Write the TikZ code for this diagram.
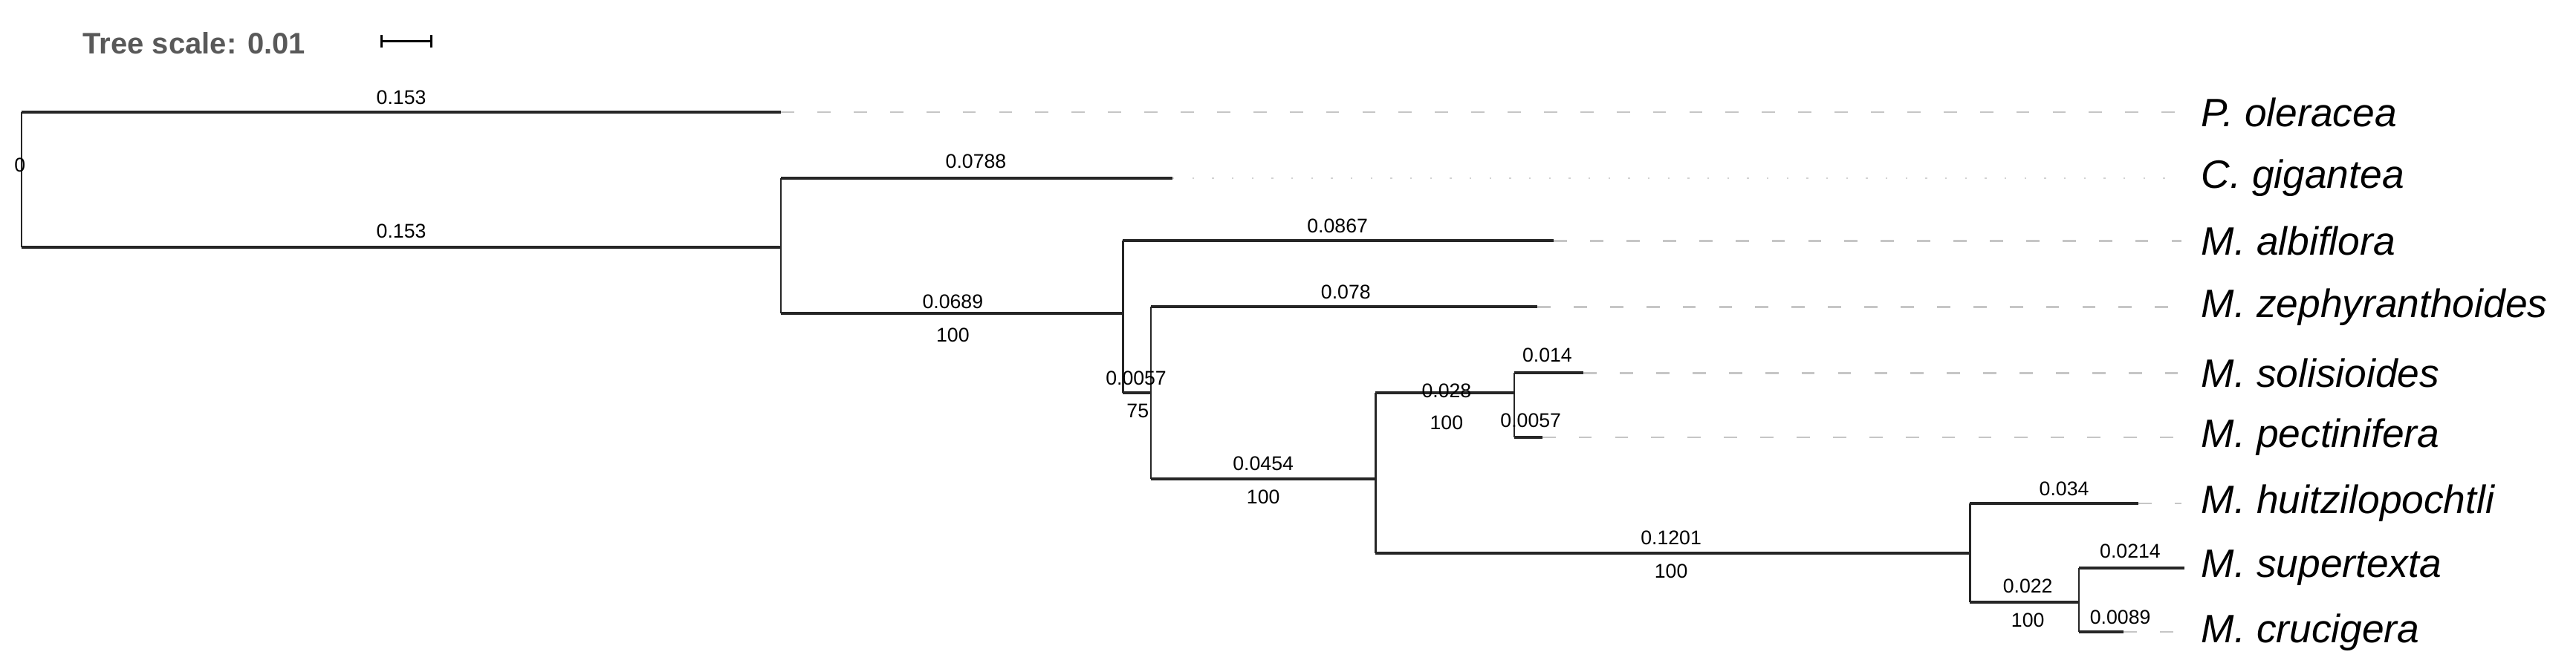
\documentclass[tikz,border=0pt]{standalone}
\usepackage{fontspec}
\setmainfont{Liberation Sans}
\begin{document}
\begin{tikzpicture}[x=1pt,y=-1pt,
  br/.style={line width=1.8pt,black!85},
  vt/.style={line width=1.1pt,black!85},
  lead/.style={line width=1.1pt,gray!45,dash pattern=on 8pt off 14pt},
  dotlead/.style={line width=1.1pt,gray!35,dash pattern=on 1pt off 11pt},
  bl/.style={font=\fontsize{12}{12}\selectfont,inner sep=1pt},
  tax/.style={font=\fontsize{24}{24}\selectfont\itshape,anchor=west,inner sep=0pt}]
\useasboundingbox (0,0) rectangle (1560,405);
% scale
\node[font=\fontsize{18}{18}\selectfont\bfseries,text=black!65,anchor=west,inner sep=0pt] (ts) at (50,26) {Tree scale: 0.01};
\coordinate (s1) at (231,25); \coordinate (s2) at (261,25);
\draw[line width=1.5pt] (s1) -- (s2);
\draw[line width=1.3pt] ([yshift=-4pt]s1) -- ([yshift=4pt]s1) ([yshift=-4pt]s2) -- ([yshift=4pt]s2);
% internal nodes
\coordinate (R) at (13,68); \coordinate (Rb) at (13,150);
\coordinate (A) at (473,108); \coordinate (Ab) at (473,190);
\coordinate (B) at (680,146); \coordinate (Bb) at (680,238);
\coordinate (C) at (697,186); \coordinate (Cb) at (697,290);
\coordinate (D) at (833,238); \coordinate (Db) at (833,335);
\coordinate (E) at (917,226); \coordinate (Eb) at (917,265);
\coordinate (F) at (1193,305); \coordinate (Fb) at (1193,365);
\coordinate (G) at (1259,344); \coordinate (Gb) at (1259,383);
% leaf ends
\coordinate (l1) at (473,68);
\coordinate (l2) at (710,108);
\coordinate (l3) at (941,146);
\coordinate (l4) at (931,186);
\coordinate (l5) at (959,226);
\coordinate (l6) at (934,265);
\coordinate (l7) at (1295,305);
\coordinate (l8) at (1323,344);
\coordinate (l9) at (1286,383);
% verticals
\draw[vt] (R) -- (Rb); \draw[vt] (A) -- (Ab); \draw[vt] (B) -- (Bb);
\draw[vt] (C) -- (Cb); \draw[vt] (D) -- (Db); \draw[vt] (E) -- (Eb);
\draw[vt] (F) -- (Fb); \draw[vt] (G) -- (Gb);
% horizontals
\draw[br] (R) -- (l1); \draw[br] (Rb) -- (A |- Rb);
\draw[br] (A) -- (l2); \draw[br] (Ab) -- (B |- Ab);
\draw[br] (B) -- (l3); \draw[br] (Bb) -- (C |- Bb);
\draw[br] (C) -- (l4); \draw[br] (Cb) -- (D |- Cb);
\draw[br] (D) -- (E |- D); \draw[br] (E) -- (l5); \draw[br] (Eb) -- (l6);
\draw[br] (Db) -- (F |- Db);
\draw[br] (F) -- (l7); \draw[br] (Fb) -- (G |- Fb);
\draw[br] (G) -- (l8); \draw[br] (Gb) -- (l9);
% taxa
\node[tax] (t1) at (1333,68) {P. oleracea};
\node[tax] (t2) at (1333,108) {C. gigantea};
\node[tax] (t3) at (1333,146) {M. albiflora};
\node[tax] (t4) at (1333,186) {M. zephyranthoides};
\node[tax] (t5) at (1333,226) {M. solisioides};
\node[tax] (t6) at (1333,265) {M. pectinifera};
\node[tax] (t7) at (1333,305) {M. huitzilopochtli};
\node[tax] (t8) at (1333,344) {M. supertexta};
\node[tax] (t9) at (1333,383) {M. crucigera};
% leaders
\draw[lead] (l1) -- ([xshift=-12pt]t1.west);
\draw[dotlead] (l2) -- ([xshift=-12pt]t2.west);
\draw[lead] (l3) -- ([xshift=-12pt]t3.west);
\draw[lead] (l4) -- ([xshift=-12pt]t4.west);
\draw[lead] (l5) -- ([xshift=-12pt]t5.west);
\draw[lead] (l6) -- ([xshift=-12pt]t6.west);
\draw[lead] (l7) -- ([xshift=-12pt]t7.west);
\draw[lead] (l9) -- ([xshift=-12pt]t9.west);
% branch labels
\node[bl] (r0) at (12,100) {0};
\node[bl] (b1) at (243,59) {0.153};
\node[bl] (b2) at (243,140) {0.153};
\node[bl] (b3) at (591,98) {0.0788};
\node[bl] (b4) at (577,183) {0.0689};
\node[bl] (s4) at (577,203) {100};
\node[bl] (b5) at (810,137) {0.0867};
\node[bl] (b6) at (688,229) {0.0057};
\node[bl] (s6) at (689,249) {75};
\node[bl] (b7) at (815,177) {0.078};
\node[bl] (b8) at (765,281) {0.0454};
\node[bl] (s8) at (765,301) {100};
\node[bl] (b9) at (876,237) {0.028};
\node[bl] (s9) at (876,256) {100};
\node[bl] (b10) at (937,215) {0.014};
\node[bl] (b11) at (927,255) {0.0057};
\node[bl] (b12) at (1012,326) {0.1201};
\node[bl] (s12) at (1012,346) {100};
\node[bl] (b13) at (1250,296) {0.034};
\node[bl] (b14) at (1228,355) {0.022};
\node[bl] (s14) at (1228,376) {100};
\node[bl] (b15) at (1290,334) {0.0214};
\node[bl] (b16) at (1284,374) {0.0089};
\end{tikzpicture}
\end{document}
